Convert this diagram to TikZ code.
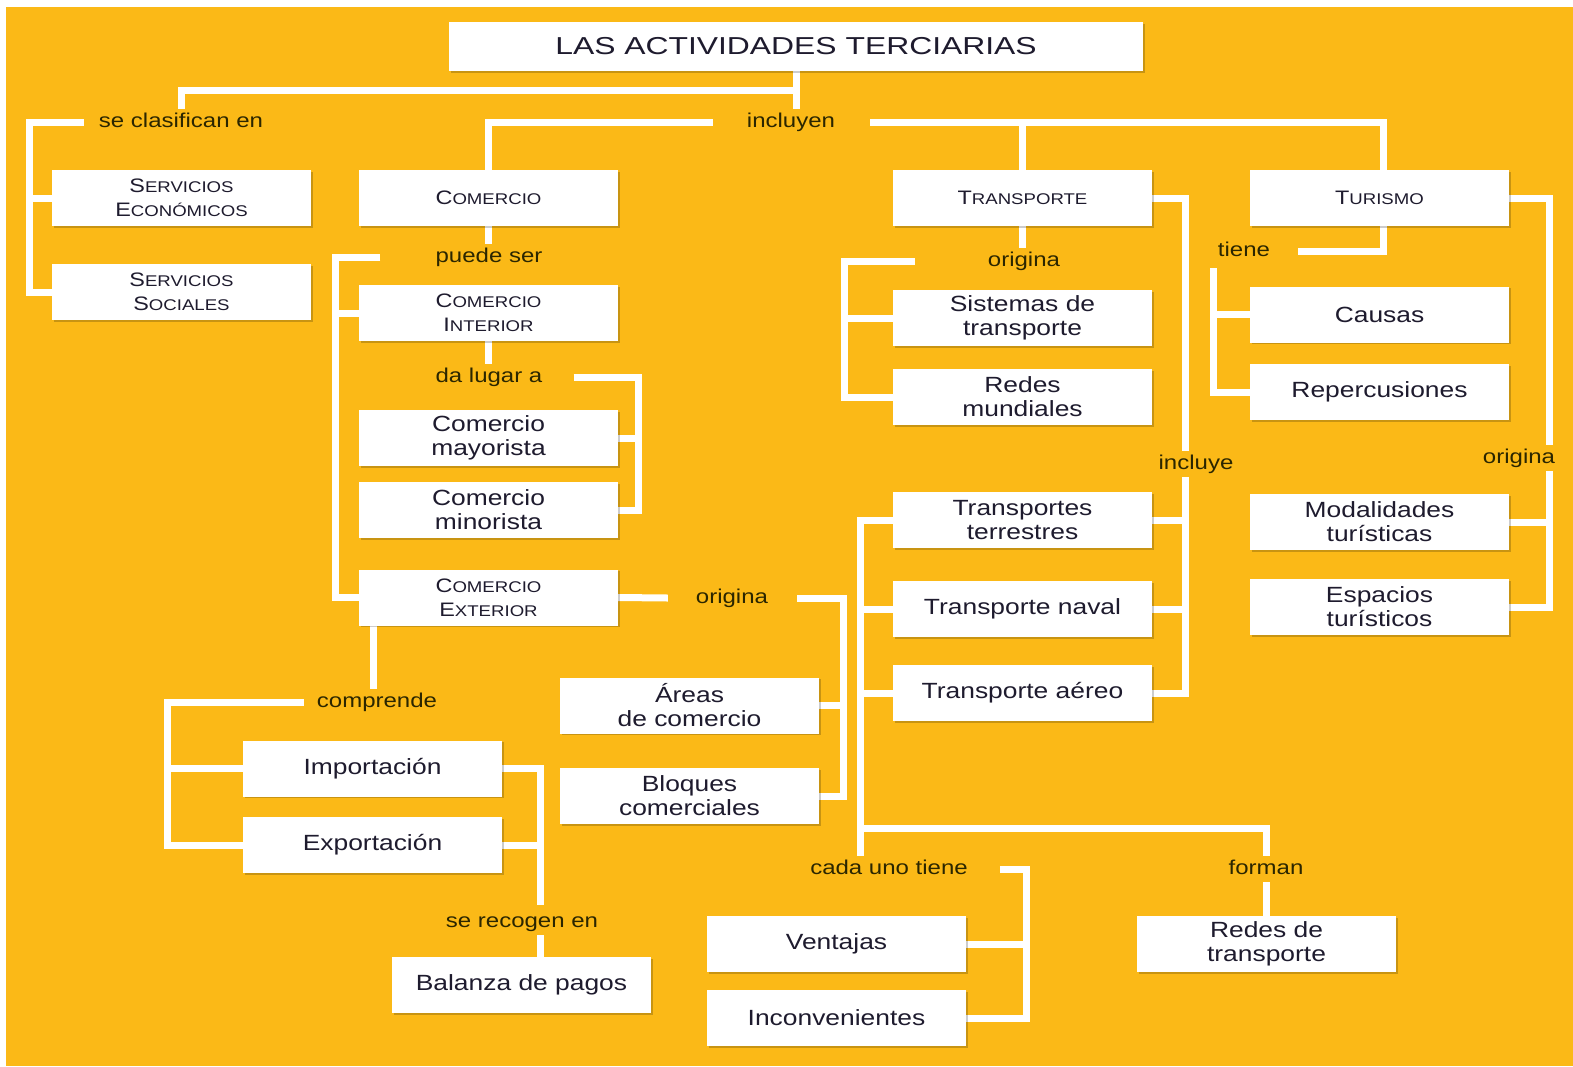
\documentclass[tikz,border=0pt]{standalone}
\usepackage{fontspec}
\setmainfont{Liberation Sans}[FakeStretch=1.2]
\newfontfamily\scfont{Liberation Sans}[FakeStretch=1.2]
\newfontfamily\titlefont{Liberation Sans}[FakeStretch=1.3]
\usepackage{xcolor}
\usepackage{tikz}
\usetikzlibrary{shadows}
\definecolor{bgorange}{HTML}{FBB917}
\definecolor{boxtext}{HTML}{1E1B2E}
\definecolor{labtext}{HTML}{2B2600}
\newcommand\smcap[2]{{\scfont\fontsize{19.5}{24}\selectfont #1\fontsize{15.5}{24}\selectfont #2}}
\pgfdeclarelayer{bg}
\pgfdeclarelayer{lines}
\pgfsetlayers{bg,lines,main}
\tikzset{
  box/.style={rectangle, fill=white, minimum width=259pt, minimum height=56pt, inner sep=0pt,
    align=center, text=boxtext, font=\fontsize{22}{24}\selectfont,
    drop shadow={shadow xshift=1.5pt, shadow yshift=-1.5pt, fill=black, opacity=0.2}},
  lab/.style={text=labtext, font=\fontsize{20}{24}\selectfont, inner sep=4pt,
    text height=14pt, text depth=4pt},
  link/.style={draw=white, line width=7pt},
}

\begin{document}
\begin{tikzpicture}[x=1pt, y=-1pt]
  \useasboundingbox (0,0) rectangle (1573,1066);
  \begin{pgfonlayer}{bg}
    \fill[white] (0,0) rectangle (1573,1066);
    \fill[bgorange] (6,7) rectangle (1573,1066);
  \end{pgfonlayer}

  % boxes
  \node[box, minimum width=694pt, minimum height=49pt] (title) at (796,46.5)
    {\titlefont\fontsize{24.5}{28}\selectfont LAS ACTIVIDADES TERCIARIAS};
  \node[box] (seceo) at (181.5,198) {\smcap{S}{ERVICIOS}\\\smcap{E}{CONÓMICOS}};
  \node[box] (secsoc) at (181.5,292) {\smcap{S}{ERVICIOS}\\\smcap{S}{OCIALES}};
  \node[box] (comercio) at (488.5,198) {\smcap{C}{OMERCIO}};
  \node[box] (cint) at (488.5,313) {\smcap{C}{OMERCIO}\\\smcap{I}{NTERIOR}};
  \node[box] (cmay) at (488.5,438) {Comercio\\mayorista};
  \node[box] (cmin) at (488.5,510) {Comercio\\minorista};
  \node[box] (cext) at (488.5,597.5) {\smcap{C}{OMERCIO}\\\smcap{E}{XTERIOR}};
  \node[box] (transp) at (1022.5,198) {\smcap{T}{RANSPORTE}};
  \node[box] (turismo) at (1379.5,198) {\smcap{T}{URISMO}};
  \node[box] (sist) at (1022.5,318) {Sistemas de\\transporte};
  \node[box] (redes) at (1022.5,397) {Redes\\mundiales};
  \node[box] (causas) at (1379.5,314.5) {Causas};
  \node[box] (repc) at (1379.5,392) {Repercusiones};
  \node[box] (terr) at (1022.5,520) {Transportes\\terrestres};
  \node[box] (naval) at (1022.5,609) {Transporte naval};
  \node[box] (aereo) at (1022.5,693) {Transporte aéreo};
  \node[box] (modal) at (1379.5,522) {Modalidades\\turísticas};
  \node[box] (espac) at (1379.5,607) {Espacios\\turísticos};
  \node[box] (areas) at (689.5,705.5) {Áreas\\de comercio};
  \node[box] (bloques) at (689.5,796) {Bloques\\comerciales};
  \node[box] (import) at (372.5,768.5) {Importación};
  \node[box] (export) at (372.5,845) {Exportación};
  \node[box] (balanza) at (521.5,985) {Balanza de pagos};
  \node[box] (vent) at (836.5,944) {Ventajas};
  \node[box] (incon) at (836.5,1018) {Inconvenientes};
  \node[box] (redtr) at (1266.5,944) {Redes de\\transporte};

  % link words
  \node[lab] (lclas) at (181,122) {se clasifican en};
  \node[lab] (lincl) at (791,122) {incluyen};
  \node[lab] (lpuede) at (489,257) {puede ser};
  \node[lab] (llugar) at (489,377) {da lugar a};
  \node[lab] (lorig2) at (1024,261) {origina};
  \node[lab] (ltiene) at (1244,251) {tiene};
  \node[lab] (lincl2) at (1196,464) {incluye};
  \node[lab] (lorig3) at (1519,458) {origina};
  \node[lab] (lorig1) at (732,598) {origina};
  \node[lab] (lcomp) at (377,702) {comprende};
  \node[lab] (lrecog) at (522,922) {se recogen en};
  \node[lab] (lcada) at (889,869) {cada uno tiene};
  \node[lab] (lforman) at (1266,869) {forman};
  \coordinate (tjoin) at (860,828);

  % connectors
  \begin{pgfonlayer}{lines}
    \draw[link] (title.south) -- (title.south |- lincl.north);
    \draw[link] (lclas.north) |- ([yshift=-19pt]title.south);
    \draw[link] ([xshift=-11pt]lclas.west) -- ++(-54,0) |- (secsoc.west);
    \draw[link] (seceo.west) -- ++(-22,0);
    \draw[link] ([xshift=-30pt]lincl.west) -| (comercio.north);
    \draw[link] ([xshift=31pt]lincl.east) -| ([xshift=4pt]turismo.north);
    \draw[link] (transp.north) -- (transp.north |- lincl);
    % comercio
    \draw[link] (comercio.south) -- (comercio.south |- lpuede.north);
    \draw[link] ([xshift=-51pt]lpuede.west) -- ++(-45,0) |- (cext.west);
    \draw[link] (cint.west) -- ++(-24,0);
    \draw[link] (cint.south) -- (cint.south |- llugar.north);
    \draw[link] ([xshift=27pt]llugar.east) -- ++(65,0) |- (cmin.east);
    \draw[link] (cmay.east) -- ++(20,0);
    \draw[link] (cext.east) -- ([xshift=-24pt]lorig1.west);
    \draw[link] ([xshift=25pt]lorig1.east) -- ++(46,0) |- (bloques.east);
    \draw[link] (areas.east) -- ++(24,0);
    \draw[link] ([xshift=15pt]cext.south west) -- ([xshift=15pt]cext.south west |- lcomp.north);
    \draw[link] ([xshift=-9pt]lcomp.west) -- ++(-136,0) |- (export.west);
    \draw[link] (import.west) -- ++(-75,0);
    \draw[link] (import.east) -| ([xshift=18pt,yshift=4pt]lrecog.north);
    \draw[link] (export.east) -- ++(38,0);
    \draw[link] ([xshift=18pt]lrecog.south) -- ([xshift=18.5pt]balanza.north);
    % transporte
    \draw[link] (transp.south) -- (transp.south |- lorig2.north);
    \draw[link] ([xshift=-69pt]lorig2.west) -- ++(-70,0) |- (redes.west);
    \draw[link] (sist.west) -- ++(-48,0);
    \draw[link] (transp.east) -| ([xshift=-11pt]lincl2.north);
    \draw[link] ([xshift=-11pt]lincl2.south) |- (aereo.east);
    \draw[link] (terr.east) -- ++(33,0);
    \draw[link] (naval.east) -- ++(33,0);
    \draw[link] (terr.west) -| ([xshift=-29pt]lcada.north);
    \draw[link] (naval.west) -- ++(-33,0);
    \draw[link] (aereo.west) -- ++(-33,0);
    \draw[link] (tjoin) -| (lforman.north);
    \draw[link] (lforman.south) -- (lforman.south |- redtr.north);
    \draw[link] ([xshift=28pt]lcada.east) -- ++(27,0) |- (incon.east);
    \draw[link] (vent.east) -- ++(61,0);
    % turismo
    \draw[link] ([xshift=4pt]turismo.south) |- ([xshift=24pt]ltiene.east);
    \draw[link] ([xshift=-31pt,yshift=-4pt]ltiene.south) |- (repc.west);
    \draw[link] (causas.west) -- ++(-37,0);
    \draw[link] (turismo.east) -| ([xshift=30pt]lorig3.north);
    \draw[link] ([xshift=30pt]lorig3.south) |- (espac.east);
    \draw[link] (modal.east) -- ++(40,0);
  \end{pgfonlayer}
\end{tikzpicture}
\end{document}
